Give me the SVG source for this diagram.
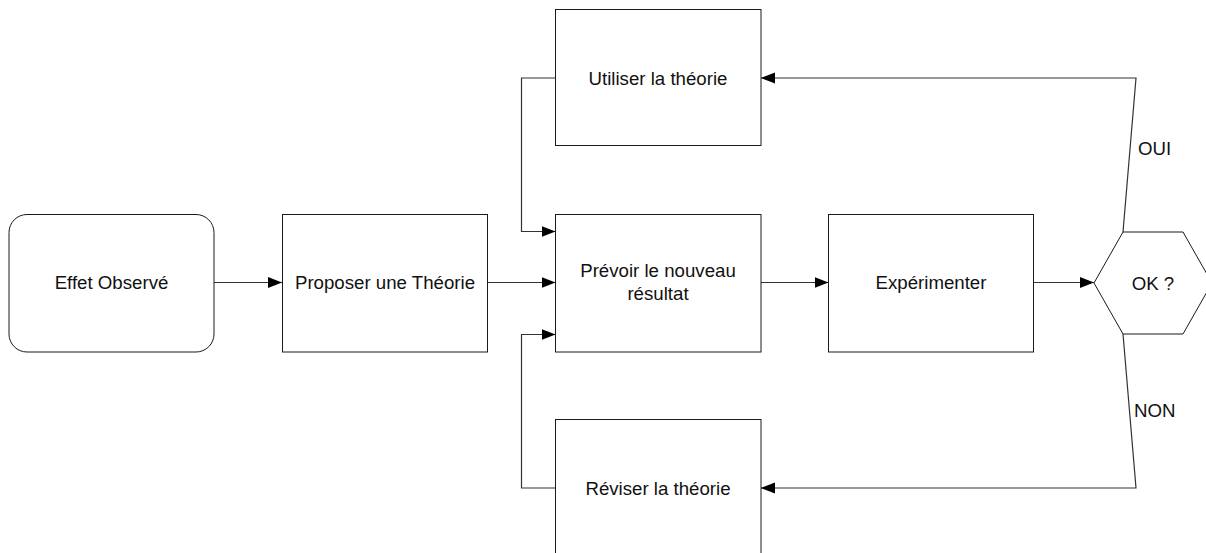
<svg xmlns="http://www.w3.org/2000/svg" width="1206" height="553" viewBox="0 0 1206 553">
<style>
.box{fill:#fff;stroke:#1a1a1a;stroke-width:1}
.lbl{font-family:"Liberation Sans",Arial,sans-serif;font-size:18.67px;fill:#111;text-anchor:middle}
.edge{fill:none;stroke:#333;stroke-width:1.2}
.elbl{font-family:"Liberation Sans",Arial,sans-serif;font-size:18.67px;fill:#111}
</style>
<defs>
<marker id="arr" markerUnits="userSpaceOnUse" markerWidth="14" markerHeight="12" refX="14" refY="5.5" orient="auto">
<path d="M0,0 L14,5.5 L0,11 Z" fill="#000"/>
</marker>
</defs>
<rect width="1206" height="553" fill="#fff"/>
<g id="connectors">
<path class="edge" d="M214,282.5 L282,282.5" marker-end="url(#arr)"/>
<path class="edge" d="M487.5,282.5 L555.5,282.5" marker-end="url(#arr)"/>
<path class="edge" d="M761,282.5 L828.5,282.5" marker-end="url(#arr)"/>
<path class="edge" d="M1033.5,282.5 L1094,282.5" marker-end="url(#arr)"/>
<path class="edge" d="M555.5,78 L521.5,78 L521.5,231.5 L555.5,231.5" marker-end="url(#arr)"/>
<path class="edge" d="M555.5,488 L521.5,488 L521.5,334.5 L555.5,334.5" marker-end="url(#arr)"/>
<path class="edge" d="M1123,232 L1136,78 L761,78" marker-end="url(#arr)"/>
<path class="edge" d="M1123,334 L1136,488 L761,488" marker-end="url(#arr)"/>
<text class="elbl" x="1138" y="155">OUI</text>
<text class="elbl" x="1134" y="417">NON</text>
</g>
<g id="effet">
<rect class="box" x="9" y="214.5" width="205" height="137.5" rx="18" ry="18"/>
<text class="lbl" x="111.5" y="289">Effet Observé</text>
</g>
<g id="proposer">
<rect class="box" x="282.5" y="214.5" width="205" height="137.5"/>
<text class="lbl" x="385" y="289">Proposer une Théorie</text>
</g>
<g id="prevoir">
<rect class="box" x="555.5" y="214.5" width="205.5" height="137.5"/>
<text class="lbl" x="658" y="277">Prévoir le nouveau</text>
<text class="lbl" x="658" y="300">résultat</text>
</g>
<g id="utiliser">
<rect class="box" x="555.5" y="9.5" width="205.5" height="136"/>
<text class="lbl" x="658" y="84.5">Utiliser la théorie</text>
</g>
<g id="reviser">
<rect class="box" x="555.5" y="419.5" width="205.5" height="137"/>
<text class="lbl" x="658" y="494.5">Réviser la théorie</text>
</g>
<g id="experimenter">
<rect class="box" x="828.5" y="214.5" width="205" height="137.5"/>
<text class="lbl" x="931" y="289">Expérimenter</text>
</g>
<g id="ok">
<polygon class="box" points="1094,283 1123,232 1183,232 1212,283 1183,334 1123,334"/>
<text class="lbl" x="1153" y="289.5">OK ?</text>
</g>
</svg>
